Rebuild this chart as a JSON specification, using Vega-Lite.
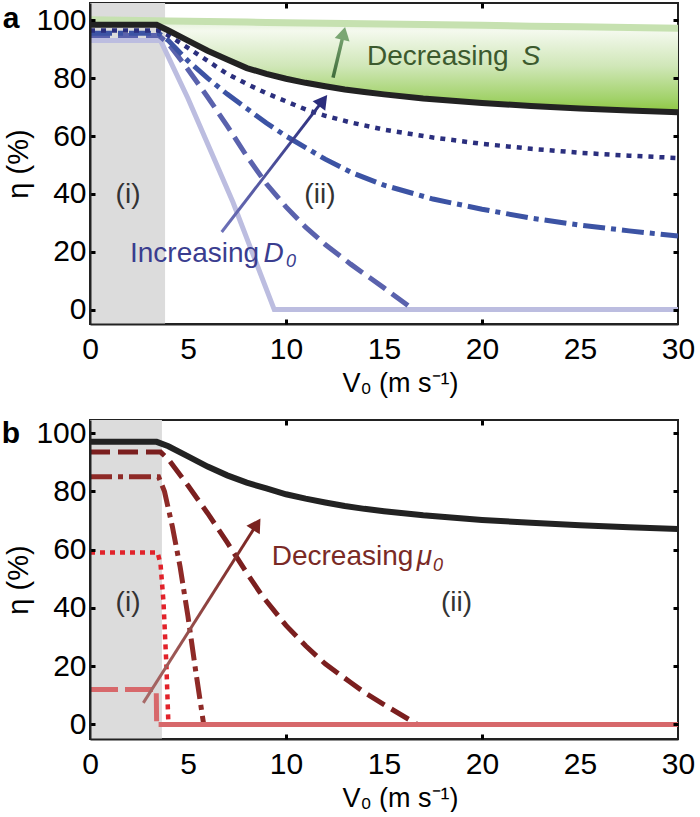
{
  "$schema": "https://vega.github.io/schema/vega-lite/v6.json",
  "background": "white",
  "padding": {"left": 0, "top": 0, "right": 0, "bottom": 0},
  "config": {"font": "Liberation Sans", "view": {"stroke": "#222", "strokeWidth": 2}},
  "spacing": 20,
  "datasets": {
    "aRegion": [{"V": 0, "V2": 3.83}],
    "aGreen": [
      {"V": 0, "top": 100.2, "bot": 98.5}, {"V": 3.4, "top": 99.9, "bot": 98.5}, {"V": 4, "top": 99.8, "bot": 96.5},
      {"V": 5, "top": 99.7, "bot": 93}, {"V": 6, "top": 99.6, "bot": 89.5}, {"V": 7, "top": 99.5, "bot": 86.5},
      {"V": 8, "top": 99.4, "bot": 83.5}, {"V": 9, "top": 99.3, "bot": 81.5}, {"V": 10, "top": 99.2, "bot": 79.8},
      {"V": 11, "top": 99.1, "bot": 78.4}, {"V": 12, "top": 99.0, "bot": 77.2}, {"V": 13, "top": 98.9, "bot": 76.1},
      {"V": 14, "top": 98.8, "bot": 75.2}, {"V": 15, "top": 98.7, "bot": 74.4}, {"V": 17, "top": 98.6, "bot": 73},
      {"V": 20, "top": 98.3, "bot": 71.4}, {"V": 22.5, "top": 98.0, "bot": 70.4}, {"V": 25, "top": 97.8, "bot": 69.5},
      {"V": 27.5, "top": 97.5, "bot": 68.8}, {"V": 30, "top": 97.3, "bot": 68.2}
    ],
    "aLines": [
      {"s": "lav", "V": 0, "eta": 93}, {"s": "lav", "V": 3.6, "eta": 93}, {"s": "lav", "V": 5, "eta": 73},
      {"s": "lav", "V": 7.3, "eta": 37}, {"s": "lav", "V": 9.4, "eta": 0}, {"s": "lav", "V": 30, "eta": 0},
      {"s": "dash", "V": 0, "eta": 94.8}, {"s": "dash", "V": 3.5, "eta": 94.8}, {"s": "dash", "V": 4, "eta": 92},
      {"s": "dash", "V": 5, "eta": 83}, {"s": "dash", "V": 6, "eta": 73.5}, {"s": "dash", "V": 7, "eta": 63.5},
      {"s": "dash", "V": 8, "eta": 53}, {"s": "dash", "V": 9, "eta": 43.5}, {"s": "dash", "V": 10, "eta": 35.5},
      {"s": "dash", "V": 11, "eta": 28.5}, {"s": "dash", "V": 12, "eta": 22.5}, {"s": "dash", "V": 13.3, "eta": 15.7},
      {"s": "dash", "V": 14, "eta": 12.3}, {"s": "dash", "V": 15, "eta": 7.5}, {"s": "dash", "V": 16.5, "eta": 0},
      {"s": "dashdot", "V": 0, "eta": 95.5}, {"s": "dashdot", "V": 3.5, "eta": 95.5}, {"s": "dashdot", "V": 4, "eta": 93},
      {"s": "dashdot", "V": 5, "eta": 86}, {"s": "dashdot", "V": 6, "eta": 80}, {"s": "dashdot", "V": 7, "eta": 74.5},
      {"s": "dashdot", "V": 8, "eta": 69.5}, {"s": "dashdot", "V": 9, "eta": 64.5}, {"s": "dashdot", "V": 10, "eta": 60},
      {"s": "dashdot", "V": 11, "eta": 56}, {"s": "dashdot", "V": 12, "eta": 52}, {"s": "dashdot", "V": 13.3, "eta": 47.5},
      {"s": "dashdot", "V": 15, "eta": 43}, {"s": "dashdot", "V": 17.5, "eta": 38.2}, {"s": "dashdot", "V": 20, "eta": 34.7},
      {"s": "dashdot", "V": 22.5, "eta": 31.6}, {"s": "dashdot", "V": 25, "eta": 29.2}, {"s": "dashdot", "V": 27.5, "eta": 27.2},
      {"s": "dashdot", "V": 30, "eta": 25.4},
      {"s": "dot", "V": 0, "eta": 96.5}, {"s": "dot", "V": 3.5, "eta": 96.5}, {"s": "dot", "V": 4, "eta": 94.8},
      {"s": "dot", "V": 5, "eta": 90.5}, {"s": "dot", "V": 6, "eta": 86}, {"s": "dot", "V": 7, "eta": 81.5},
      {"s": "dot", "V": 8, "eta": 78}, {"s": "dot", "V": 9, "eta": 74.8}, {"s": "dot", "V": 10, "eta": 72},
      {"s": "dot", "V": 11, "eta": 69.2}, {"s": "dot", "V": 12, "eta": 67}, {"s": "dot", "V": 13.3, "eta": 64.7},
      {"s": "dot", "V": 15, "eta": 62.2}, {"s": "dot", "V": 17.5, "eta": 59.5}, {"s": "dot", "V": 20, "eta": 57.3},
      {"s": "dot", "V": 22.5, "eta": 55.6}, {"s": "dot", "V": 25, "eta": 54.2}, {"s": "dot", "V": 27.5, "eta": 53.2},
      {"s": "dot", "V": 30, "eta": 52.4},
      {"s": "black", "V": 0, "eta": 98.5}, {"s": "black", "V": 3.4, "eta": 98.5}, {"s": "black", "V": 4, "eta": 96.5},
      {"s": "black", "V": 5, "eta": 93}, {"s": "black", "V": 6, "eta": 89.5}, {"s": "black", "V": 7, "eta": 86.5},
      {"s": "black", "V": 8, "eta": 83.5}, {"s": "black", "V": 9, "eta": 81.5}, {"s": "black", "V": 10, "eta": 79.8},
      {"s": "black", "V": 11, "eta": 78.4}, {"s": "black", "V": 12, "eta": 77.2}, {"s": "black", "V": 13, "eta": 76.1},
      {"s": "black", "V": 14, "eta": 75.2}, {"s": "black", "V": 15, "eta": 74.4}, {"s": "black", "V": 17, "eta": 73},
      {"s": "black", "V": 20, "eta": 71.4}, {"s": "black", "V": 22.5, "eta": 70.4}, {"s": "black", "V": 25, "eta": 69.5},
      {"s": "black", "V": 27.5, "eta": 68.8}, {"s": "black", "V": 30, "eta": 68.2}
    ],
    "aArrowD": [{"V": 6.72, "eta": 26.8}, {"V": 11.89, "eta": 72.3}],
    "aArrowS": [{"V": 12.4, "eta": 80.2}, {"V": 12.94, "eta": 95.5}],
    "aHeadD": [{"V": 11.89, "eta": 72.3}],
    "aHeadS": [{"V": 12.94, "eta": 95.5}],
    "aText": [{"k": "S", "V": 14.13, "eta": 84.4, "label": "Decreasing"}, {"k": "D", "V": 2.04, "eta": 16.4, "label": "Increasing"}],
    "aItal": [{"k": "S", "V": 22.03, "eta": 84.4, "label": "S"}, {"k": "D", "V": 8.85, "eta": 16.4, "label": "D"}],
    "aSub": [{"k": "D", "V": 10.0, "eta": 14.7, "label": "0"}],
    "aRegionLabel": [{"V": 1.94, "eta": 36.9, "label": "(i)"}, {"V": 11.73, "eta": 36.9, "label": "(ii)"}],
    "aPanel": [{"V": -4.03, "eta": 97.5, "label": "a"}],
    "bRegion": [{"V": 0, "V2": 3.67}],
    "bLines": [
      {"s": "salmon", "V": 0, "eta": 12}, {"s": "salmon", "V": 3.38, "eta": 12}, {"s": "salmon", "V": 3.4, "eta": 0},
      {"s": "dot", "V": 0, "eta": 59}, {"s": "dot", "V": 3.45, "eta": 59}, {"s": "dot", "V": 3.6, "eta": 55},
      {"s": "dot", "V": 3.75, "eta": 42}, {"s": "dot", "V": 3.9, "eta": 20}, {"s": "dot", "V": 4.0, "eta": 0},
      {"s": "dashdot", "V": 0, "eta": 85}, {"s": "dashdot", "V": 3.5, "eta": 85}, {"s": "dashdot", "V": 3.8, "eta": 80},
      {"s": "dashdot", "V": 4.2, "eta": 68}, {"s": "dashdot", "V": 4.6, "eta": 54}, {"s": "dashdot", "V": 5.0, "eta": 37},
      {"s": "dashdot", "V": 5.4, "eta": 18}, {"s": "dashdot", "V": 5.8, "eta": 0},
      {"s": "dash", "V": 0, "eta": 93.5}, {"s": "dash", "V": 3.6, "eta": 93.5}, {"s": "dash", "V": 4, "eta": 91},
      {"s": "dash", "V": 5, "eta": 82}, {"s": "dash", "V": 6, "eta": 72.5}, {"s": "dash", "V": 7, "eta": 62.5},
      {"s": "dash", "V": 8, "eta": 52}, {"s": "dash", "V": 8.8, "eta": 44}, {"s": "dash", "V": 10, "eta": 34},
      {"s": "dash", "V": 11, "eta": 27}, {"s": "dash", "V": 12, "eta": 20.8}, {"s": "dash", "V": 13.3, "eta": 14.4},
      {"s": "dash", "V": 14, "eta": 11}, {"s": "dash", "V": 15, "eta": 6.8}, {"s": "dash", "V": 16.7, "eta": 0},
      {"s": "zero", "V": 3.5, "eta": 0}, {"s": "zero", "V": 30, "eta": 0},
      {"s": "black", "V": 0, "eta": 97}, {"s": "black", "V": 3.4, "eta": 97}, {"s": "black", "V": 4, "eta": 95.5},
      {"s": "black", "V": 5, "eta": 92}, {"s": "black", "V": 6, "eta": 88.5}, {"s": "black", "V": 7, "eta": 85.5},
      {"s": "black", "V": 8, "eta": 83}, {"s": "black", "V": 9, "eta": 81}, {"s": "black", "V": 10, "eta": 79},
      {"s": "black", "V": 11, "eta": 77.5}, {"s": "black", "V": 12, "eta": 76.2}, {"s": "black", "V": 13, "eta": 75},
      {"s": "black", "V": 14, "eta": 74}, {"s": "black", "V": 15, "eta": 73.2}, {"s": "black", "V": 17, "eta": 71.8},
      {"s": "black", "V": 20, "eta": 70.2}, {"s": "black", "V": 22.5, "eta": 69.2}, {"s": "black", "V": 25, "eta": 68.4},
      {"s": "black", "V": 27.5, "eta": 67.7}, {"s": "black", "V": 30, "eta": 67.1}
    ],
    "bArrow": [{"V": 2.72, "eta": 7.4}, {"V": 8.51, "eta": 68.7}],
    "bHead": [{"V": 8.51, "eta": 68.7}],
    "bText": [{"V": 9.27, "eta": 54.8, "label": "Decreasing"}],
    "bItal": [{"V": 16.67, "eta": 54.8, "label": "μ"}],
    "bSub": [{"V": 17.5, "eta": 52.5, "label": "0"}],
    "bRegionLabel": [{"V": 1.94, "eta": 39.1, "label": "(i)"}, {"V": 18.7, "eta": 39.1, "label": "(ii)"}],
    "bPanel": [{"V": -4.03, "eta": 96.5, "label": "b"}]
  },
  "vconcat": [
    {
      "width": 588,
      "height": 321,
      "resolve": {"axis": {"x": "independent", "y": "independent"}},
      "layer": [
        {
          "data": {"name": "aRegion"},
          "mark": {"type": "rect", "color": "#dcdcdc"},
          "encoding": {
            "x": {"field": "V", "type": "quantitative", "scale": {"domain": [0, 30], "nice": false, "zero": false},
              "axis": {"orient": "bottom", "values": [0, 5, 10, 15, 20, 25, 30], "ticks": false, "domainColor": "#222", "domainWidth": 2,
                "labelFontSize": 30, "labelPadding": 10, "labelColor": "#000", "labelFlush": false, "title": "V₀ (m s⁻¹)", "titleFontSize": 27,
                "titleFontWeight": "normal", "titleColor": "#000", "titlePadding": 6, "titleX": 310, "grid": false, "zindex": 1}},
            "x2": {"field": "V2"}
          }
        },
        {
          "data": {"name": "aGreen"},
          "mark": {"type": "area", "fill": {"gradient": "linear", "x1": 0, "y1": 0, "x2": 0, "y2": 1,
            "stops": [{"offset": 0, "color": "#e2f0d6"}, {"offset": 0.12, "color": "#f4f9ee"}, {"offset": 0.5, "color": "#d0e7b8"}, {"offset": 0.85, "color": "#a2d26a"}, {"offset": 1, "color": "#8cc63f"}]}},
          "encoding": {
            "x": {"field": "V", "type": "quantitative", "axis": null},
            "y": {"field": "top", "type": "quantitative", "scale": {"domain": [-5, 106], "nice": false, "zero": false},
              "axis": {"orient": "left", "values": [0, 20, 40, 60, 80, 100], "tickSize": -5, "tickWidth": 3, "tickColor": "#000",
                "domainColor": "#222", "domainWidth": 2, "labelFontSize": 30, "labelPadding": 9, "labelColor": "#000", "labelFlush": false,
                "title": "η (%)", "titleFontSize": 29, "titleFontWeight": "normal", "titleColor": "#000", "titlePadding": 2, "grid": false, "zindex": 1}},
            "y2": {"field": "bot"}
          }
        },
        {
          "data": {"name": "aGreen"},
          "mark": {"type": "line", "color": "#c6e1b0", "strokeWidth": 7},
          "encoding": {
            "x": {"field": "V", "type": "quantitative", "axis": null},
            "y": {"field": "top", "type": "quantitative", "axis": null}
          }
        },
        {
          "data": {"name": "aLines"},
          "transform": [{"filter": "datum.s == 'lav'"}],
          "mark": {"type": "line", "color": "#bcbde0", "strokeWidth": 5},
          "encoding": {
            "x": {"field": "V", "type": "quantitative",
              "axis": {"orient": "bottom", "values": [10, 20], "labels": false, "domain": false, "tickSize": -5, "tickWidth": 3, "tickColor": "#000", "title": null, "grid": false, "zindex": 1}},
            "y": {"field": "eta", "type": "quantitative", "axis": null}
          }
        },
        {
          "data": {"name": "aLines"},
          "transform": [{"filter": "datum.s == 'dash'"}],
          "mark": {"type": "line", "color": "#5a62ad", "strokeWidth": 5, "strokeDash": [20, 8]},
          "encoding": {
            "x": {"field": "V", "type": "quantitative", "axis": null},
            "y": {"field": "eta", "type": "quantitative", "axis": null}
          }
        },
        {
          "data": {"name": "aLines"},
          "transform": [{"filter": "datum.s == 'dashdot'"}],
          "mark": {"type": "line", "color": "#3c53a4", "strokeWidth": 5, "strokeDash": [22, 6, 5, 6]},
          "encoding": {
            "x": {"field": "V", "type": "quantitative", "axis": null},
            "y": {"field": "eta", "type": "quantitative", "axis": null}
          }
        },
        {
          "data": {"name": "aLines"},
          "transform": [{"filter": "datum.s == 'dot'"}],
          "mark": {"type": "line", "color": "#2b2f7e", "strokeWidth": 4.5, "strokeDash": [5, 6]},
          "encoding": {
            "x": {"field": "V", "type": "quantitative", "axis": null},
            "y": {"field": "eta", "type": "quantitative", "axis": null}
          }
        },
        {
          "data": {"name": "aLines"},
          "transform": [{"filter": "datum.s == 'black'"}],
          "mark": {"type": "line", "color": "#222222", "strokeWidth": 6},
          "encoding": {
            "x": {"field": "V", "type": "quantitative",
              "axis": {"orient": "top", "values": [10, 20], "labels": false, "domain": false, "tickSize": -5, "tickWidth": 3, "tickColor": "#000", "title": null, "grid": false, "zindex": 1}},
            "y": {"field": "eta", "type": "quantitative",
              "axis": {"orient": "right", "values": [0, 20, 40, 60, 80, 100], "labels": false, "domain": false, "tickSize": -5, "tickWidth": 3, "tickColor": "#000", "title": null, "grid": false, "zindex": 1}}
          }
        },
        {
          "data": {"name": "aArrowD"},
          "mark": {"type": "line", "strokeWidth": 3, "stroke": {"gradient": "linear", "x1": 0, "y1": 1, "x2": 1, "y2": 0,
            "stops": [{"offset": 0, "color": "#6d71b8"}, {"offset": 1, "color": "#2b2d7c"}]}},
          "encoding": {
            "x": {"field": "V", "type": "quantitative", "axis": null},
            "y": {"field": "eta", "type": "quantitative", "axis": null}
          }
        },
        {
          "data": {"name": "aArrowS"},
          "mark": {"type": "line", "strokeWidth": 3.5, "stroke": {"gradient": "linear", "x1": 0, "y1": 1, "x2": 0, "y2": 0,
            "stops": [{"offset": 0, "color": "#3f6b3a"}, {"offset": 1, "color": "#7aa673"}]}},
          "encoding": {
            "x": {"field": "V", "type": "quantitative", "axis": null},
            "y": {"field": "eta", "type": "quantitative", "axis": null}
          }
        },
        {
          "data": {"name": "aHeadD"},
          "mark": {"type": "point", "shape": "triangle-up", "filled": true, "size": 250, "angle": 37, "color": "#2b2d7c", "opacity": 1},
          "encoding": {
            "x": {"field": "V", "type": "quantitative", "axis": null},
            "y": {"field": "eta", "type": "quantitative", "axis": null}
          }
        },
        {
          "data": {"name": "aHeadS"},
          "mark": {"type": "point", "shape": "triangle-up", "filled": true, "size": 230, "angle": 13, "color": "#7aa673", "opacity": 1},
          "encoding": {
            "x": {"field": "V", "type": "quantitative", "axis": null},
            "y": {"field": "eta", "type": "quantitative", "axis": null}
          }
        },
        {
          "data": {"name": "aText"},
          "mark": {"type": "text", "align": "left", "baseline": "alphabetic", "fontSize": 28},
          "encoding": {
            "x": {"field": "V", "type": "quantitative", "axis": null},
            "y": {"field": "eta", "type": "quantitative", "axis": null},
            "text": {"field": "label"},
            "color": {"field": "k", "type": "nominal", "scale": {"domain": ["S", "D"], "range": ["#3c5a2e", "#3a3d8f"]}, "legend": null}
          }
        },
        {
          "data": {"name": "aItal"},
          "mark": {"type": "text", "align": "left", "baseline": "alphabetic", "fontSize": 28, "fontStyle": "italic"},
          "encoding": {
            "x": {"field": "V", "type": "quantitative", "axis": null},
            "y": {"field": "eta", "type": "quantitative", "axis": null},
            "text": {"field": "label"},
            "color": {"field": "k", "type": "nominal", "scale": {"domain": ["S", "D"], "range": ["#3c5a2e", "#3a3d8f"]}, "legend": null}
          }
        },
        {
          "data": {"name": "aSub"},
          "mark": {"type": "text", "align": "left", "baseline": "alphabetic", "fontSize": 18, "fontStyle": "italic", "color": "#3a3d8f"},
          "encoding": {
            "x": {"field": "V", "type": "quantitative", "axis": null},
            "y": {"field": "eta", "type": "quantitative", "axis": null},
            "text": {"field": "label"}
          }
        },
        {
          "data": {"name": "aRegionLabel"},
          "mark": {"type": "text", "align": "center", "baseline": "alphabetic", "fontSize": 28, "color": "#333333"},
          "encoding": {
            "x": {"field": "V", "type": "quantitative", "axis": null},
            "y": {"field": "eta", "type": "quantitative", "axis": null},
            "text": {"field": "label"}
          }
        },
        {
          "data": {"name": "aPanel"},
          "mark": {"type": "text", "align": "center", "baseline": "alphabetic", "fontSize": 30, "fontWeight": "bold", "color": "#000"},
          "encoding": {
            "x": {"field": "V", "type": "quantitative", "axis": null},
            "y": {"field": "eta", "type": "quantitative", "axis": null},
            "text": {"field": "label"}
          }
        }
      ]
    },
    {
      "width": 588,
      "height": 319,
      "resolve": {"axis": {"x": "independent", "y": "independent"}},
      "layer": [
        {
          "data": {"name": "bRegion"},
          "mark": {"type": "rect", "color": "#dcdcdc"},
          "encoding": {
            "x": {"field": "V", "type": "quantitative", "scale": {"domain": [0, 30], "nice": false, "zero": false},
              "axis": {"orient": "bottom", "values": [0, 5, 10, 15, 20, 25, 30], "ticks": false, "domainColor": "#222", "domainWidth": 2,
                "labelFontSize": 30, "labelPadding": 10, "labelColor": "#000", "labelFlush": false, "title": "V₀ (m s⁻¹)", "titleFontSize": 27,
                "titleFontWeight": "normal", "titleColor": "#000", "titlePadding": 6, "titleX": 310, "grid": false, "zindex": 1}},
            "x2": {"field": "V2"}
          }
        },
        {
          "data": {"name": "bLines"},
          "transform": [{"filter": "datum.s == 'salmon'"}],
          "mark": {"type": "line", "color": "#d7686b", "strokeWidth": 5, "strokeDash": [28, 7]},
          "encoding": {
            "x": {"field": "V", "type": "quantitative", "axis": null},
            "y": {"field": "eta", "type": "quantitative", "scale": {"domain": [-5, 104.5], "nice": false, "zero": false},
              "axis": {"orient": "left", "values": [0, 20, 40, 60, 80, 100], "tickSize": -5, "tickWidth": 3, "tickColor": "#000",
                "domainColor": "#222", "domainWidth": 2, "labelFontSize": 30, "labelPadding": 9, "labelColor": "#000", "labelFlush": false,
                "title": "η (%)", "titleFontSize": 29, "titleFontWeight": "normal", "titleColor": "#000", "titlePadding": 2, "grid": false, "zindex": 1}}
          }
        },
        {
          "data": {"name": "bLines"},
          "transform": [{"filter": "datum.s == 'dot'"}],
          "mark": {"type": "line", "color": "#e1222a", "strokeWidth": 4.5, "strokeDash": [5, 5]},
          "encoding": {
            "x": {"field": "V", "type": "quantitative",
              "axis": {"orient": "bottom", "values": [10, 20], "labels": false, "domain": false, "tickSize": -5, "tickWidth": 3, "tickColor": "#000", "title": null, "grid": false, "zindex": 1}},
            "y": {"field": "eta", "type": "quantitative", "axis": null}
          }
        },
        {
          "data": {"name": "bLines"},
          "transform": [{"filter": "datum.s == 'dashdot'"}],
          "mark": {"type": "line", "color": "#8e2a27", "strokeWidth": 5, "strokeDash": [22, 6, 5, 6]},
          "encoding": {
            "x": {"field": "V", "type": "quantitative", "axis": null},
            "y": {"field": "eta", "type": "quantitative", "axis": null}
          }
        },
        {
          "data": {"name": "bLines"},
          "transform": [{"filter": "datum.s == 'dash'"}],
          "mark": {"type": "line", "color": "#7b1f1f", "strokeWidth": 5, "strokeDash": [20, 8]},
          "encoding": {
            "x": {"field": "V", "type": "quantitative", "axis": null},
            "y": {"field": "eta", "type": "quantitative", "axis": null}
          }
        },
        {
          "data": {"name": "bLines"},
          "transform": [{"filter": "datum.s == 'zero'"}],
          "mark": {"type": "line", "color": "#d7686b", "strokeWidth": 5},
          "encoding": {
            "x": {"field": "V", "type": "quantitative", "axis": null},
            "y": {"field": "eta", "type": "quantitative", "axis": null}
          }
        },
        {
          "data": {"name": "bLines"},
          "transform": [{"filter": "datum.s == 'black'"}],
          "mark": {"type": "line", "color": "#222222", "strokeWidth": 6},
          "encoding": {
            "x": {"field": "V", "type": "quantitative",
              "axis": {"orient": "top", "values": [10, 20], "labels": false, "domain": false, "tickSize": -5, "tickWidth": 3, "tickColor": "#000", "title": null, "grid": false, "zindex": 1}},
            "y": {"field": "eta", "type": "quantitative",
              "axis": {"orient": "right", "values": [0, 20, 40, 60, 80, 100], "labels": false, "domain": false, "tickSize": -5, "tickWidth": 3, "tickColor": "#000", "title": null, "grid": false, "zindex": 1}}
          }
        },
        {
          "data": {"name": "bArrow"},
          "mark": {"type": "line", "strokeWidth": 3, "stroke": {"gradient": "linear", "x1": 0, "y1": 1, "x2": 1, "y2": 0,
            "stops": [{"offset": 0, "color": "#a86a68"}, {"offset": 1, "color": "#7a2320"}]}},
          "encoding": {
            "x": {"field": "V", "type": "quantitative", "axis": null},
            "y": {"field": "eta", "type": "quantitative", "axis": null}
          }
        },
        {
          "data": {"name": "bHead"},
          "mark": {"type": "point", "shape": "triangle-up", "filled": true, "size": 250, "angle": 32.5, "color": "#7a2320", "opacity": 1},
          "encoding": {
            "x": {"field": "V", "type": "quantitative", "axis": null},
            "y": {"field": "eta", "type": "quantitative", "axis": null}
          }
        },
        {
          "data": {"name": "bText"},
          "mark": {"type": "text", "align": "left", "baseline": "alphabetic", "fontSize": 28, "color": "#7a2a25"},
          "encoding": {
            "x": {"field": "V", "type": "quantitative", "axis": null},
            "y": {"field": "eta", "type": "quantitative", "axis": null},
            "text": {"field": "label"}
          }
        },
        {
          "data": {"name": "bItal"},
          "mark": {"type": "text", "align": "left", "baseline": "alphabetic", "fontSize": 28, "fontStyle": "italic", "color": "#7a2a25"},
          "encoding": {
            "x": {"field": "V", "type": "quantitative", "axis": null},
            "y": {"field": "eta", "type": "quantitative", "axis": null},
            "text": {"field": "label"}
          }
        },
        {
          "data": {"name": "bSub"},
          "mark": {"type": "text", "align": "left", "baseline": "alphabetic", "fontSize": 18, "fontStyle": "italic", "color": "#7a2a25"},
          "encoding": {
            "x": {"field": "V", "type": "quantitative", "axis": null},
            "y": {"field": "eta", "type": "quantitative", "axis": null},
            "text": {"field": "label"}
          }
        },
        {
          "data": {"name": "bRegionLabel"},
          "mark": {"type": "text", "align": "center", "baseline": "alphabetic", "fontSize": 28, "color": "#333333"},
          "encoding": {
            "x": {"field": "V", "type": "quantitative", "axis": null},
            "y": {"field": "eta", "type": "quantitative", "axis": null},
            "text": {"field": "label"}
          }
        },
        {
          "data": {"name": "bPanel"},
          "mark": {"type": "text", "align": "center", "baseline": "alphabetic", "fontSize": 30, "fontWeight": "bold", "color": "#000"},
          "encoding": {
            "x": {"field": "V", "type": "quantitative", "axis": null},
            "y": {"field": "eta", "type": "quantitative", "axis": null},
            "text": {"field": "label"}
          }
        }
      ]
    }
  ]
}
